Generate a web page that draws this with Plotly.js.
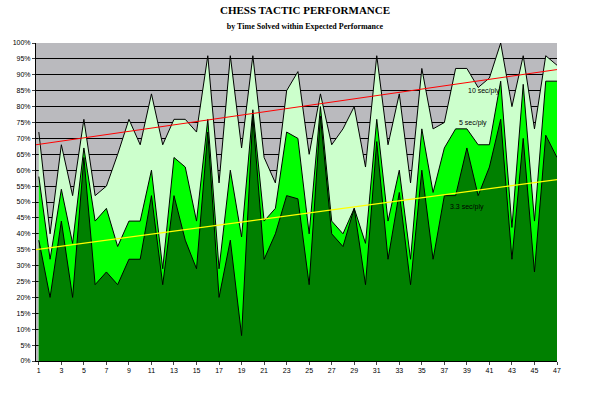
<!DOCTYPE html>
<html>
<head>
<meta charset="utf-8">
<script src="https://cdn.plot.ly/plotly-3.0.1.min.js"></script>
<style>body{margin:0;background:#fff}#chart{width:610px;height:406px}</style>
</head>
<body>
<div id="chart"></div>
<script>
// puzzle number 1..47
const puzzles = Array.from({length: 47}, (_, i) => i + 1);

// percent solved within expected performance
const sec10 = [72,40,68,52,76,52,55,65,76,68,84,68,76,76,72,96,56,96,67,96,64,56,85,91,
  65,84,68,73,80,61,96,68,84,56,92,73,75,92,92,86,89,100,80,96,73,96,93];
const sec5 = [58,32,54,37,67,44,48,36,44,44,60,29,64,61,44,76,29,60,39,79,44,48,72,70,
  40,80,44,40,48,37,76,44,60,32,73,53,67,73,73,68,68,88,42,87,44,88,88];
const sec33 = [38,20,44,20,64,24,28,24,32,32,52,24,52,38,29,72,20,38,8,77,32,40,52,51,
  24,77,40,36,48,24,69,32,53,24,60,32,52,52,67,52,61,76,32,70,28,71,64];

// trend line end points
const trendX = [0.75, 47.7];
const trendTop = [68, 92];
const trendLow = [35, 57.4];

const yTicks = Array.from({length: 21}, (_, i) => i * 5);
const xTicks = puzzles.filter(n => n % 2 === 1);

const area = (y, color) => ({
  x: puzzles, y: y, type: 'scatter', mode: 'lines', fill: 'tozeroy',
  fillcolor: color, line: {color: '#000', width: 1}, hoverinfo: 'skip'
});

const data = [
  area(sec10, '#ccffcc'),
  area(sec5, '#00ff00'),
  area(sec33, '#008000'),
  {x: trendX, y: trendTop, mode: 'lines', line: {color: '#ff0000', width: 1}, cliponaxis: false},
  {x: trendX, y: trendLow, mode: 'lines', line: {color: '#ffff00', width: 1.2}, cliponaxis: false}
];

const tickFont = {family: 'Arial, Liberation Sans', size: 7, color: '#000'};
const labelFont = {family: 'Arial, Liberation Sans', size: 7, color: '#000'};

const layout = {
  width: 610, height: 406,
  showlegend: false,
  paper_bgcolor: '#fff',
  plot_bgcolor: '#bababe',
  margin: {l: 36, r: 53, t: 43, b: 45},
  title: {
    text: '<b>CHESS TACTIC PERFORMANCE</b><br><span style="font-size:8px"><b>by Time Solved within Expected Performance</b></span>',
    font: {family: 'Liberation Serif, Times New Roman', size: 11, color: '#000'},
    x: 0.5, xanchor: 'center', y: 0.965, yanchor: 'top'
  },
  xaxis: {
    range: [0.75, 47], tickvals: xTicks, ticktext: xTicks.map(String),
    tickfont: tickFont, ticks: 'outside', ticklen: 3, showgrid: false,
    zeroline: false, showline: true, linecolor: '#000'
  },
  yaxis: {
    range: [0, 100], tickvals: yTicks, ticktext: yTicks.map(v => v + '%'),
    tickfont: tickFont, ticks: 'outside', ticklen: 3,
    showgrid: true, gridcolor: '#000', gridwidth: 1,
    zeroline: false, showline: true, linecolor: '#000'
  },
  annotations: [
    {x: 40.5, y: 85, text: '10 sec/ply', showarrow: false, font: labelFont},
    {x: 39.5, y: 75, text: '5 sec/ply', showarrow: false, font: labelFont},
    {x: 39, y: 48.5, text: '3.3 sec/ply', showarrow: false, font: labelFont}
  ]
};

Plotly.newPlot('chart', data, layout, {staticPlot: true});
</script>
</body>
</html>
